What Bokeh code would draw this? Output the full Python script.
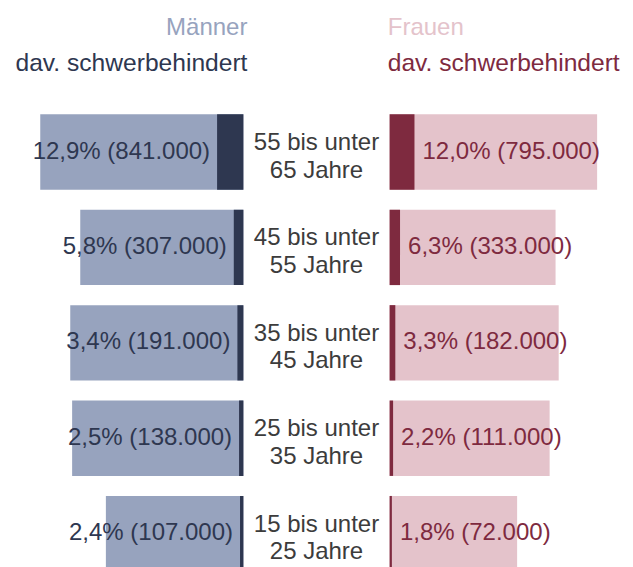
from bokeh.plotting import figure
from bokeh.models import Range1d, ColumnDataSource
from bokeh.embed import file_html
from bokeh.resources import INLINE
from bokeh.core.properties import value

# ---- data ----
age_line1 = ["55 bis unter", "45 bis unter", "35 bis unter", "25 bis unter", "15 bis unter"]
age_line2 = ["65 Jahre", "55 Jahre", "45 Jahre", "35 Jahre", "25 Jahre"]
men_pct = [12.9, 5.8, 3.4, 2.5, 2.4]
men_sb = [841000, 307000, 191000, 138000, 107000]
men_total_mio = [6.50, 5.22, 5.54, 5.48, 4.40]
women_pct = [12.0, 6.3, 3.3, 2.2, 1.8]
women_sb = [795000, 333000, 182000, 111000, 72000]
women_total_mio = [6.64, 5.31, 5.41, 5.12, 4.08]
rows = [4, 3, 2, 1, 0]

# ---- styling ----
FONT = value("Liberation Sans")
FS = "24px"
M_LIGHT, M_DARK = "#97A3BE", "#2E3750"
W_LIGHT, W_DARK = "#E4C3CB", "#7E2A3F"
TXT = "#3C3C3C"
GAP = 2.34
BAR_H = 0.79


def fmt(p, n):
    return f"{p:.1f}".replace(".", ",") + "% (" + f"{n:,}".replace(",", ".") + ")"


men_sb_mio = [n / 1e6 for n in men_sb]
women_sb_mio = [n / 1e6 for n in women_sb]

src = ColumnDataSource(dict(
    y=rows,
    y_lab=[r + 0.02 for r in rows],
    y_l1=[r + 0.11 for r in rows],
    y_l2=[r + 0.11 - 0.29 for r in rows],
    m_left=[-GAP - t for t in men_total_mio],
    m_dleft=[-GAP - s for s in men_sb_mio],
    m_right=[-GAP] * len(rows),
    w_left=[GAP] * len(rows),
    w_right=[GAP + t for t in women_total_mio],
    w_dright=[GAP + s for s in women_sb_mio],
    m_text=[fmt(p, n) for p, n in zip(men_pct, men_sb)],
    w_text=[fmt(p, n) for p, n in zip(women_pct, women_sb)],
    l1=age_line1,
    l2=age_line2,
    zero=[0] * len(rows),
))

p = figure(width=633, height=567, output_backend="svg", toolbar_location=None,
           x_range=Range1d(-10.112, 10.144), y_range=Range1d(-0.355, 5.588),
           min_border=0, outline_line_color=None)
p.axis.visible = False
p.grid.visible = False
p.background_fill_color = "white"
p.border_fill_color = "white"

p.hbar(y="y", left="m_left", right="m_right", height=BAR_H, source=src,
       fill_color=M_LIGHT, line_color=None)
p.hbar(y="y", left="m_dleft", right="m_right", height=BAR_H, source=src,
       fill_color=M_DARK, line_color=None)
p.hbar(y="y", left="w_left", right="w_right", height=BAR_H, source=src,
       fill_color=W_LIGHT, line_color=None)
p.hbar(y="y", left="w_left", right="w_dright", height=BAR_H, source=src,
       fill_color=W_DARK, line_color=None)

p.text(x="m_dleft", y="y_lab", text="m_text", source=src, x_offset=-7,
       text_align="right", text_baseline="alphabetic", text_font=FONT,
       text_font_size=FS, text_color=M_DARK)
p.text(x="w_dright", y="y_lab", text="w_text", source=src, x_offset=8,
       text_align="left", text_baseline="alphabetic", text_font=FONT,
       text_font_size=FS, text_color=W_DARK)
p.text(x="zero", y="y_l1", text="l1", source=src, text_align="center",
       text_baseline="alphabetic", text_font=FONT, text_font_size=FS, text_color=TXT)
p.text(x="zero", y="y_l2", text="l2", source=src, text_align="center",
       text_baseline="alphabetic", text_font=FONT, text_font_size=FS, text_color=TXT)

# headers
p.text(x=[-GAP + 0.13], y=[5.316], text=["Männer"], text_align="right",
       text_baseline="alphabetic", text_font=FONT, text_font_size=FS, text_color=M_LIGHT)
p.text(x=[-GAP + 0.13], y=[4.938], text=["dav. schwerbehindert"], text_align="right",
       text_baseline="alphabetic", text_font=FONT, text_font_size="24.6px", text_color=M_DARK)
p.text(x=[GAP - 0.06], y=[5.316], text=["Frauen"], text_align="left",
       text_baseline="alphabetic", text_font=FONT, text_font_size=FS, text_color=W_LIGHT)
p.text(x=[GAP - 0.06], y=[4.938], text=["dav. schwerbehindert"], text_align="left",
       text_baseline="alphabetic", text_font=FONT, text_font_size="24.6px", text_color=W_DARK)

open("out.html", "w").write(file_html(p, INLINE))
